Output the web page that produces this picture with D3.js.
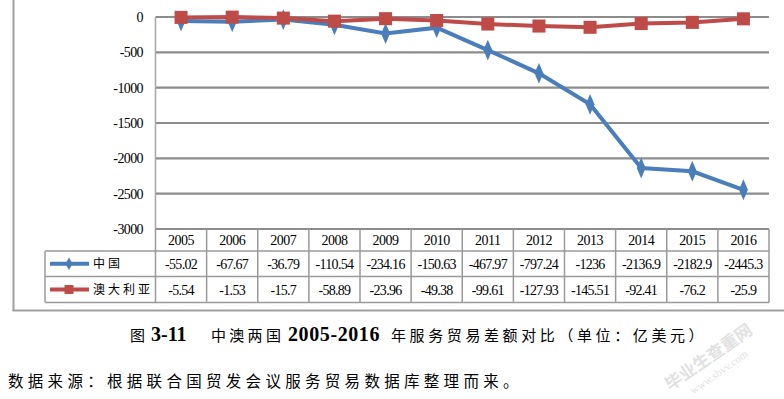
<!DOCTYPE html>
<html>
<head>
<meta charset="utf-8">
<script src="https://cdn.jsdelivr.net/npm/d3@7"></script>
<style>
  body { margin: 0; background: #fff; }
  svg { display: block; }
</style>
</head>
<body>
<div id="chart"></div>
<script>
var years = ["2005","2006","2007","2008","2009","2010","2011","2012","2013","2014","2015","2016"];
var chinaVals = [-55.02,-67.67,-36.79,-110.54,-234.16,-150.63,-467.97,-797.24,-1236,-2136.9,-2182.9,-2445.3];
var ausVals = [-5.54,-1.53,-15.7,-58.89,-23.96,-49.38,-99.61,-127.93,-145.51,-92.41,-76.2,-25.9];
var seriesNames = ["中国", "澳大利亚"];
var yTicks = [0,-500,-1000,-1500,-2000,-2500,-3000];

var width = 784, height = 399;
var serif = "'Liberation Serif','Times New Roman',serif";
var cjk = "'Noto Sans CJK SC','Noto Sans CJK JP',sans-serif";
var grid = "#8c8c8c";

var svg = d3.select("#chart").append("svg")
.attr("width", width)
.attr("height", height);

var plotLeft = 155.5, plotRight = 769, plotTop = 17, plotBottom = 229;
var rowH = [229, 251, 276.5, 302.5];

var x = d3.scaleBand().domain(years).range([plotLeft, plotRight]);
var y = d3.scaleLinear().domain([-3000, 0]).range([plotBottom, plotTop]);

// outer frame (page border)
svg.append("line").attr("x1", 13.5).attr("x2", 13.5).attr("y1", 0).attr("y2", 311)
.attr("stroke", "#a0a0a0").attr("stroke-width", 2);
svg.append("line").attr("x1", 12.5).attr("x2", 784).attr("y1", 310.5).attr("y2", 310.5)
.attr("stroke", "#a0a0a0").attr("stroke-width", 2);

// gridlines
svg.append("g").selectAll("line")
.data(yTicks.filter(function(d){ return d > -3000 }))
.enter().append("line")
.attr("x1", plotLeft).attr("x2", plotRight)
.attr("y1", function(d){ return y(d) }).attr("y2", function(d){ return y(d) })
.attr("stroke", grid).attr("stroke-width", 2.2);

// y axis line
svg.append("line").attr("x1", plotLeft).attr("x2", plotLeft).attr("y1", plotTop).attr("y2", plotBottom)
.attr("stroke", "#a6a6a6").attr("stroke-width", 1.5);

// y tick labels
svg.append("g").selectAll("text")
.data(yTicks)
.enter().append("text")
.attr("x", 143)
.attr("y", function(d){ return y(d) })
.attr("dy", "0.35em")
.attr("text-anchor", "end")
.style("font-family", serif)
.style("font-size", "14px")
.style("letter-spacing", "-0.6px")
.text(function(d){ return d });

// data table grid
var tbl = svg.append("g").attr("stroke", "#9a9a9a").attr("stroke-width", 1.5);
tbl.append("line").attr("x1", plotLeft).attr("x2", plotRight).attr("y1", rowH[0]).attr("y2", rowH[0]).attr("stroke", grid).attr("stroke-width", 2.2);
[1, 2, 3].forEach(function(k){
  tbl.append("line").attr("x1", 45).attr("x2", plotRight).attr("y1", rowH[k]).attr("y2", rowH[k]);
});
tbl.append("line").attr("x1", 45).attr("x2", 45).attr("y1", rowH[1]).attr("y2", rowH[3]);
var bounds = years.map(function(d){ return x(d) }).concat([plotRight]);
tbl.selectAll("line.col").data(bounds).enter().append("line")
.attr("class", "col")
.attr("x1", function(d){ return d }).attr("x2", function(d){ return d })
.attr("y1", rowH[0]).attr("y2", rowH[3]);

// year header
svg.append("g").selectAll("text").data(years).enter().append("text")
.attr("x", function(d){ return x(d) + x.bandwidth() / 2 })
.attr("y", (rowH[0] + rowH[1]) / 2)
.attr("dy", "0.36em")
.attr("text-anchor", "middle")
.style("font-family", serif).style("font-size", "14px").style("letter-spacing", "-0.5px")
.text(function(d){ return d });

// value rows
[chinaVals, ausVals].forEach(function(vals, k){
  svg.append("g").selectAll("text").data(vals).enter().append("text")
  .attr("x", function(d, i){ return x(years[i]) + x.bandwidth() / 2 })
  .attr("y", (rowH[k + 1] + rowH[k + 2]) / 2)
  .attr("dy", "0.36em")
  .attr("text-anchor", "middle")
  .style("font-family", serif).style("font-size", "14px").style("letter-spacing", "-0.7px")
  .text(function(d){ return d });
});

var colors = ["#4a7ebb", "#be4b48"];
var diamond = d3.symbol().type(d3.symbolDiamond).size(95);
var square = d3.symbol().type(d3.symbolSquare).size(170);

var line = d3.line()
.x(function(d, i){ return x(years[i]) + x.bandwidth() / 2 })
.y(function(d){ return y(d) });

// china series
svg.append("path").datum(chinaVals)
.attr("d", line).attr("fill", "none")
.attr("stroke", colors[0]).attr("stroke-width", 4);
svg.append("g").selectAll("path").data(chinaVals).enter().append("path")
.attr("d", diamond)
.attr("transform", function(d, i){
  return "translate(" + (x(years[i]) + x.bandwidth() / 2) + "," + y(d) + ") scale(0.85,1.15)";
})
.attr("fill", colors[0]);

// australia series
svg.append("path").datum(ausVals)
.attr("d", line).attr("fill", "none")
.attr("stroke", colors[1]).attr("stroke-width", 4);
svg.append("g").selectAll("path").data(ausVals).enter().append("path")
.attr("d", square)
.attr("transform", function(d, i){
  return "translate(" + (x(years[i]) + x.bandwidth() / 2) + "," + y(d) + ")";
})
.attr("fill", colors[1]);

// legend keys in table
seriesNames.forEach(function(name, k){
  var cy = (rowH[k + 1] + rowH[k + 2]) / 2;
  svg.append("line").attr("x1", 50).attr("x2", 89).attr("y1", cy).attr("y2", cy)
  .attr("stroke", colors[k]).attr("stroke-width", 4);
  svg.append("path")
  .attr("d", k == 0 ? d3.symbol().type(d3.symbolDiamond).size(45) : d3.symbol().type(d3.symbolSquare).size(80))
  .attr("transform", "translate(69," + cy + ")")
  .attr("fill", colors[k]);
  svg.append("text").attr("x", 93).attr("y", cy).attr("dy", "0.36em")
  .style("font-family", cjk).style("font-size", "12px").style("letter-spacing", "3px")
  .text(name);
});

// caption
var cap = svg.append("text").attr("y", 341)
.style("font-family", cjk).style("font-size", "15px");
cap.append("tspan").attr("x", 130).text("图");
cap.append("tspan").attr("x", 151).text("3-11").style("font-family", serif).style("font-weight", "bold").style("font-size", "20px");
cap.append("tspan").attr("x", 211).text("中澳两国").style("letter-spacing", "3.3px");
cap.append("tspan").attr("x", 288).text("2005-2016").style("font-family", serif).style("font-weight", "bold").style("font-size", "20px").style("letter-spacing", "0.6px");
cap.append("tspan").attr("x", 391).text("年服务贸易差额对比（单位：亿美元）").style("letter-spacing", "3.6px");

// source note
svg.append("text").attr("x", 8).attr("y", 387)
.style("font-family", cjk).style("font-size", "15.5px").style("letter-spacing", "4.3px")
.text("数据来源：根据联合国贸发会议服务贸易数据库整理而来。");

// watermark
var wm = svg.append("g").attr("transform", "translate(712,362) rotate(-35)").attr("opacity", 0.35);
wm.append("text").attr("text-anchor", "middle")
.style("font-family", cjk).style("font-size", "17px").style("font-weight", "bold")
.attr("fill", "#aaaaaa").text("毕业生查重网");
wm.append("text").attr("text-anchor", "middle").attr("y", 16)
.style("font-family", serif).style("font-size", "11px")
.attr("fill", "#aaaaaa").text("www.sbvv.com");
</script>
</body>
</html>
